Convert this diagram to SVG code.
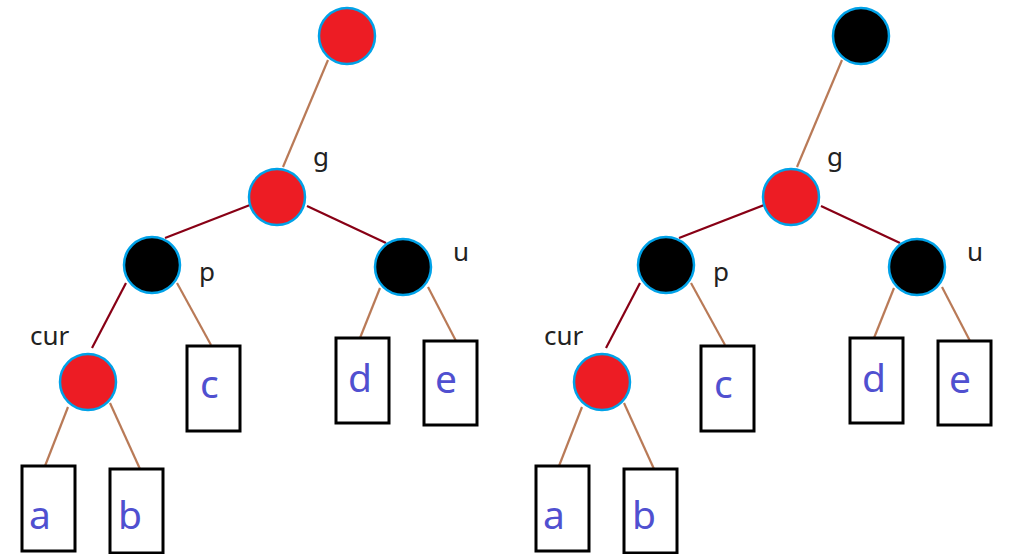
<svg xmlns="http://www.w3.org/2000/svg" width="1013" height="554" viewBox="0 0 1013 554">
<style>
.red{fill:#ed1c24;stroke:#00a2e8;stroke-width:2.5}
.blk{fill:#000;stroke:#00a2e8;stroke-width:2.5}
.box{fill:#fff;stroke:#000;stroke-width:3}
.dr{stroke:#880015;stroke-width:2.2;fill:none}
.tn{stroke:#b97a57;stroke-width:2.2;fill:none}
.lbl{font-family:"Noto Sans","Open Sans",sans-serif;font-size:26px;fill:#222}
.big{font-family:"Noto Sans","Open Sans",sans-serif;font-size:39px;fill:#5050d0}
</style>
<rect width="1013" height="554" fill="#fff"/>
<g id="connectors">
<line class="tn" x1="328" y1="60" x2="283" y2="167"/>
<line class="dr" x1="250" y1="205" x2="165" y2="238"/>
<line class="dr" x1="307" y1="206" x2="386" y2="243"/>
<line class="dr" x1="126" y1="283" x2="92" y2="348"/>
<line class="tn" x1="177" y1="283" x2="211" y2="345"/>
<line class="tn" x1="380" y1="288" x2="360" y2="338"/>
<line class="tn" x1="428" y1="287" x2="456" y2="341"/>
<line class="tn" x1="68" y1="407" x2="45" y2="466"/>
<line class="tn" x1="110" y1="403" x2="140" y2="469"/>
<line class="tn" x1="842" y1="60" x2="797" y2="167"/>
<line class="dr" x1="764" y1="205" x2="679" y2="238"/>
<line class="dr" x1="821" y1="206" x2="900" y2="243"/>
<line class="dr" x1="640" y1="283" x2="606" y2="348"/>
<line class="tn" x1="691" y1="283" x2="725" y2="345"/>
<line class="tn" x1="894" y1="288" x2="874" y2="338"/>
<line class="tn" x1="942" y1="287" x2="970" y2="341"/>
<line class="tn" x1="582" y1="407" x2="559" y2="466"/>
<line class="tn" x1="624" y1="403" x2="654" y2="469"/>
</g>
<g id="L-root"><circle class="red" cx="347" cy="36" r="28"/></g>
<g id="L-g"><circle class="red" cx="277" cy="197" r="28"/><text class="lbl" x="313" y="166">g</text></g>
<g id="L-p"><circle class="blk" cx="152" cy="265" r="28"/><text class="lbl" x="199" y="281">p</text></g>
<g id="L-u"><circle class="blk" cx="403" cy="267" r="28"/><text class="lbl" x="453" y="261">u</text></g>
<g id="L-cur"><circle class="red" cx="88" cy="382" r="28"/><text class="lbl" x="30" y="345">cur</text></g>
<g id="L-a"><rect class="box" x="22" y="466" width="53" height="85"/><text class="big" x="29" y="529">a</text></g>
<g id="L-b"><rect class="box" x="110" y="469" width="53" height="84"/><text class="big" x="118" y="529">b</text></g>
<g id="L-c"><rect class="box" x="187" y="346" width="53" height="85"/><text class="big" x="200" y="398">c</text></g>
<g id="L-d"><rect class="box" x="336" y="338" width="53" height="85"/><text class="big" x="348" y="392">d</text></g>
<g id="L-e"><rect class="box" x="424" y="341" width="53" height="84"/><text class="big" x="435" y="393">e</text></g>
<g id="R-root"><circle class="blk" cx="861" cy="36" r="28"/></g>
<g id="R-g"><circle class="red" cx="791" cy="197" r="28"/><text class="lbl" x="827" y="166">g</text></g>
<g id="R-p"><circle class="blk" cx="666" cy="265" r="28"/><text class="lbl" x="713" y="281">p</text></g>
<g id="R-u"><circle class="blk" cx="917" cy="267" r="28"/><text class="lbl" x="967" y="261">u</text></g>
<g id="R-cur"><circle class="red" cx="602" cy="382" r="28"/><text class="lbl" x="544" y="345">cur</text></g>
<g id="R-a"><rect class="box" x="536" y="466" width="53" height="85"/><text class="big" x="543" y="529">a</text></g>
<g id="R-b"><rect class="box" x="624" y="469" width="53" height="84"/><text class="big" x="632" y="529">b</text></g>
<g id="R-c"><rect class="box" x="701" y="346" width="53" height="85"/><text class="big" x="714" y="398">c</text></g>
<g id="R-d"><rect class="box" x="850" y="338" width="53" height="85"/><text class="big" x="862" y="392">d</text></g>
<g id="R-e"><rect class="box" x="938" y="341" width="53" height="84"/><text class="big" x="949" y="393">e</text></g>
</svg>
